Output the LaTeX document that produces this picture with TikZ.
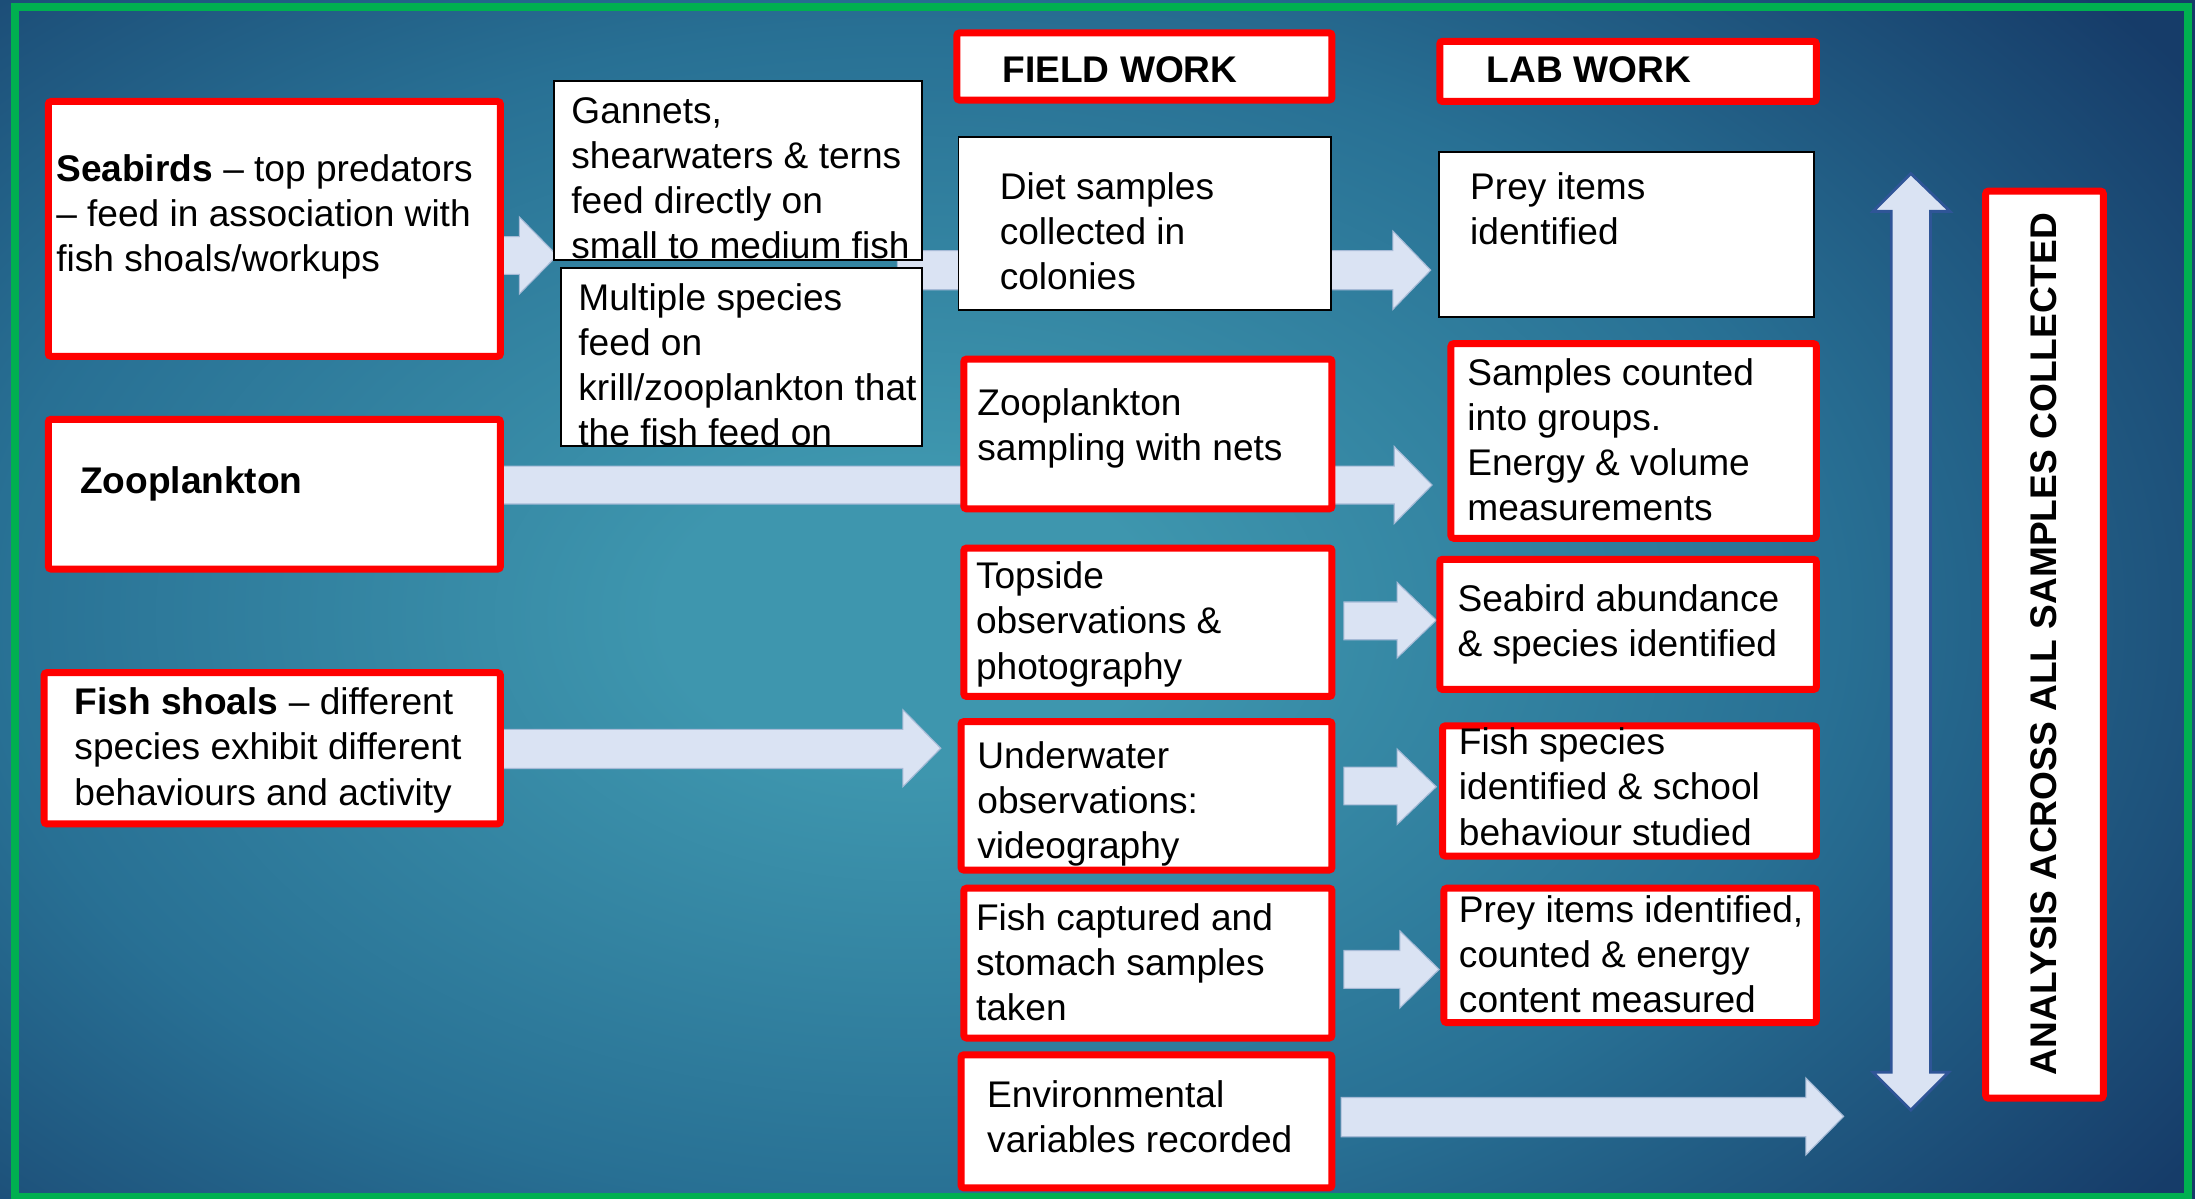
\documentclass[tikz,border=0pt]{standalone}
\usepackage{fontspec}
\setmainfont{Liberation Sans}
\definecolor{bgC}{RGB}{62,150,174}
\definecolor{bgM}{RGB}{40,112,148}
\definecolor{bgE}{RGB}{22,60,105}
\definecolor{frameGreen}{RGB}{0,176,80}
\definecolor{arrowFill}{RGB}{218,227,243}
\definecolor{arrowEdge}{RGB}{165,186,214}
\definecolor{dblEdge}{RGB}{47,85,151}
\pgfdeclareradialshading{bgrad}{\pgfpoint{0bp}{0bp}}{color(0bp)=(bgC); color(4bp)=(bgC); color(15bp)=(bgM); color(25bp)=(bgE); color(50bp)=(bgE)}
\newcommand\blockarrow[7]{% x1, xh, xt, ys1, ys2, yh1, yh2
  \fill[arrowFill, draw=arrowEdge, line width=0.8pt] (#1,#4) -- (#2,#4) -- (#2,#6) -- (#3,{(#6+#7)/2}) -- (#2,#7) -- (#2,#5) -- (#1,#5) -- cycle;}
\begin{document}
\begin{tikzpicture}[x=1pt,y=-1pt,
  every node/.style={font=\fontsize{26.5pt}{32.2pt}\selectfont},
  redbox/.style={draw=red, fill=white, line width=5pt, rounded corners=2pt, inner sep=0pt, anchor=north west},
  thinbox/.style={draw=black, fill=white, line width=1.3pt, inner sep=0pt, anchor=north west},
  txt/.style={anchor=west, align=left, inner sep=0pt, text=black},
]
\useasboundingbox (0,0) rectangle (1568,856);
% background
\fill[bgE] (0,0) rectangle (1568,856);
\begin{scope}
  \clip (0,0) rectangle (1568,856);
  \shade[shading=bgrad] (-450,-260) rectangle (1750,1140);
\end{scope}
\draw[frameGreen, line width=5.5pt] (10.7,5.1) rectangle (1563,855);

% block arrows
\blockarrow{340}{371}{398}{169}{196}{155}{210}
\blockarrow{641}{995}{1022}{179}{207}{165}{221}
\blockarrow{340}{996}{1023}{333}{360}{319}{374}
\blockarrow{340}{645}{672}{521}{549}{507}{562}
\blockarrow{960}{998}{1026}{430}{457}{416}{470}
\blockarrow{960}{998}{1026}{548}{575}{535}{589}
\blockarrow{960}{1000}{1028}{679}{706}{665}{720}
\blockarrow{958}{1290}{1317}{784}{812}{770}{825}
% double vertical arrow
\fill[arrowFill, draw=dblEdge, line width=2pt] (1365,124) -- (1393,151) -- (1379,151) -- (1379,766) -- (1392,766) -- (1365,793) -- (1338,766) -- (1351,766) -- (1351,151) -- (1338,151) -- cycle;

% boxes
\node[redbox, minimum width=323pt, minimum height=182pt] (seab) at (32,70) {};
\node[redbox, minimum width=323pt, minimum height=107pt] (zoop) at (32,297) {};
\node[redbox, minimum width=326pt, minimum height=108pt] (fish) at (29,478) {};
\node[thinbox, minimum width=263pt, minimum height=128pt] (gann) at (395,57) {};
\node[thinbox, minimum width=258pt, minimum height=127pt] (mult) at (400,191) {};
\node[redbox, minimum width=268pt, minimum height=48pt] (field) at (681,21) {};
\node[redbox, minimum width=269pt, minimum height=43pt] (lab) at (1026,27) {};
\node[thinbox, minimum width=266pt, minimum height=124pt] (diet) at (684,97) {};
\node[thinbox, minimum width=268pt, minimum height=118pt] (preyA) at (1027,108) {};
\node[redbox, minimum width=263pt, minimum height=107pt] (zsamp) at (686,254) {};
\node[redbox, minimum width=261pt, minimum height=139pt] (scount) at (1034,243) {};
\node[redbox, minimum width=263pt, minimum height=106pt] (tops) at (686,389) {};
\node[redbox, minimum width=269pt, minimum height=93pt] (sabund) at (1026,397) {};
\node[redbox, minimum width=265pt, minimum height=106pt] (under) at (684,513) {};
\node[redbox, minimum width=267pt, minimum height=93pt] (fspec) at (1028,516) {};
\node[redbox, minimum width=263pt, minimum height=107pt] (fcapt) at (686,632) {};
\node[redbox, minimum width=266pt, minimum height=96pt] (preyB) at (1029,632) {};
\node[redbox, minimum width=265pt, minimum height=95pt] (env) at (684,751) {};
\node[redbox, minimum width=84pt, minimum height=648pt] (anal) at (1416,134) {};

% texts
\node[txt] (seabT) at (40,155) {\textbf{Seabirds} – top predators\\– feed in association with\\fish shoals/workups};
\node[txt] (zoopT) at (57,346) {\textbf{Zooplankton}};
\node[txt] (fishT) at (53,536) {\textbf{Fish shoals} – different\\species exhibit different\\behaviours and activity};
\begin{scope}
  \clip (395,57) rectangle (658,185);
  \node[txt] (gannT) at (408,127.5) {Gannets,\\shearwaters \& terns\\feed directly on\\small to medium fish};
\end{scope}
\begin{scope}
  \clip (400,191) rectangle (658,318);
  \node[txt] (multT) at (413,260.5) {Multiple species\\feed on\\krill/zooplankton that\\the fish feed on};
\end{scope}
\node[txt] (fieldT) at (716,50) {\textbf{FIELD WORK}};
\node[txt] (labT) at (1062,50) {\textbf{LAB WORK}};
\node[txt] (dietT) at (714,165) {Diet samples\\collected in\\colonies};
\node[txt] (preyAT) at (1050,149) {Prey items\\identified};
\node[txt] (zsampT) at (698,306) {Zooplankton\\sampling with nets};
\node[txt] (scountT) at (1048,314) {Samples counted\\into groups.\\Energy \& volume\\measurements};
\node[txt] (topsT) at (697,446) {Topside\\observations \&\\photography};
\node[txt] (sabundT) at (1041,446) {Seabird abundance\\\& species identified};
\node[txt] (underT) at (698,574) {Underwater\\observations:\\videography};
\node[txt] (fspecT) at (1042,562) {Fish species\\identified \& school\\behaviour studied};
\node[txt] (fcaptT) at (697,687.5) {Fish captured and\\stomach samples\\taken};
\node[txt] (preyBT) at (1042,681.5) {Prey items identified,\\counted \& energy\\content measured};
\node[txt] (envT) at (705,798) {Environmental\\variables recorded};
\node[anchor=center, rotate=90, inner sep=0pt, text=black] (analT) at (1460,460) {\textbf{ANALYSIS ACROSS ALL SAMPLES COLLECTED}};
\end{tikzpicture}
\end{document}
